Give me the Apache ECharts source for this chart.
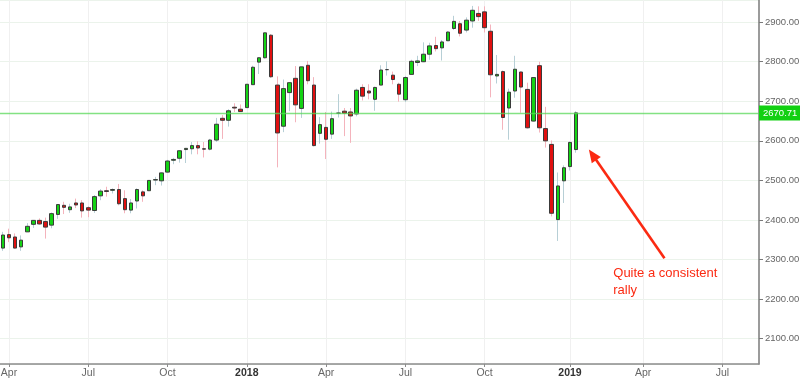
<!DOCTYPE html>
<html><head><meta charset="utf-8">
<script src="https://cdn.jsdelivr.net/npm/echarts@6/dist/echarts.min.js"></script>
<style>html,body{margin:0;padding:0;background:#fff}#c{width:800px;height:380px}</style>
</head><body><div id="c"></div>
<script>
// Weekly categories (Monday of each week)
const padBefore = ['2017-03-20'];
const weeks = [
'2017-03-27','2017-04-03','2017-04-10','2017-04-17','2017-04-24','2017-05-01','2017-05-08','2017-05-15','2017-05-22','2017-05-29',
'2017-06-05','2017-06-12','2017-06-19','2017-06-26','2017-07-03','2017-07-10','2017-07-17','2017-07-24','2017-07-31','2017-08-07',
'2017-08-14','2017-08-21','2017-08-28','2017-09-04','2017-09-11','2017-09-18','2017-09-25','2017-10-02','2017-10-09','2017-10-16',
'2017-10-23','2017-10-30','2017-11-06','2017-11-13','2017-11-20','2017-11-27','2017-12-04','2017-12-11','2017-12-18','2017-12-25',
'2018-01-01','2018-01-08','2018-01-15','2018-01-22','2018-01-29','2018-02-05','2018-02-12','2018-02-19','2018-02-26','2018-03-05',
'2018-03-12','2018-03-19','2018-03-26','2018-04-02','2018-04-09','2018-04-16','2018-04-23','2018-04-30','2018-05-07','2018-05-14',
'2018-05-21','2018-05-28','2018-06-04','2018-06-11','2018-06-18','2018-06-25','2018-07-02','2018-07-09','2018-07-16','2018-07-23',
'2018-07-30','2018-08-06','2018-08-13','2018-08-20','2018-08-27','2018-09-03','2018-09-10','2018-09-17','2018-09-24','2018-10-01',
'2018-10-08','2018-10-15','2018-10-22','2018-10-29','2018-11-05','2018-11-12','2018-11-19','2018-11-26','2018-12-03','2018-12-10',
'2018-12-17','2018-12-24','2018-12-31','2019-01-07','2019-01-14'];
const padAfter = [
'2019-01-21','2019-01-28','2019-02-04','2019-02-11','2019-02-18','2019-02-25','2019-03-04','2019-03-11','2019-03-18','2019-03-25',
'2019-04-01','2019-04-08','2019-04-15','2019-04-22','2019-04-29','2019-05-06','2019-05-13','2019-05-20','2019-05-27','2019-06-03',
'2019-06-10','2019-06-17','2019-06-24','2019-07-01','2019-07-08','2019-07-15','2019-07-22','2019-07-29','2019-08-05','2019-08-12'];

const opens = [
2329,2363,2357,2332,2370,2389,2399,2396,2387,2414,
2437,2426,2443,2443,2431,2424,2461,2474,2475,2477,
2454,2425,2448,2471,2474,2501,2499,2521,2551,2556,
2578,2580,2588,2580,2579,2602,2657,2652,2685,2680,
2684,2742,2799,2810,2867,2741,2637,2722,2758,2682,
2791,2741,2619,2634,2617,2670,2675,2673,2668,2735,
2726,2705,2741,2780,2766,2743,2704,2768,2798,2800,
2819,2841,2835,2853,2884,2896,2880,2903,2922,2926,
2877,2764,2775,2683,2726,2774,2730,2650,2790,2631,
2591,2401,2499,2535,2578];
const highs = [
2370,2378,2366,2361,2392,2400,2404,2406,2419,2440,
2446,2441,2454,2450,2435,2463,2478,2484,2480,2491,
2475,2453,2480,2475,2501,2509,2520,2552,2557,2576,
2582,2597,2599,2597,2605,2658,2665,2680,2695,2692,
2743,2790,2811,2873,2870,2763,2755,2748,2789,2787,
2802,2761,2660,2673,2674,2718,2683,2683,2732,2743,
2743,2737,2791,2801,2775,2747,2764,2805,2815,2849,
2848,2863,2855,2877,2916,2903,2912,2941,2940,2940,
2894,2817,2778,2732,2815,2775,2747,2760,2800,2686,
2601,2520,2538,2598,2675];
const lows = [
2322,2344,2328,2322,2370,2380,2388,2353,2379,2403,
2415,2418,2430,2406,2407,2418,2450,2459,2467,2437,
2417,2417,2429,2446,2474,2488,2487,2520,2541,2545,
2544,2566,2566,2558,2576,2597,2605,2636,2673,2673,
2683,2742,2769,2808,2759,2533,2622,2675,2647,2658,
2743,2586,2593,2554,2605,2659,2612,2595,2662,2702,
2705,2676,2741,2765,2743,2699,2698,2768,2789,2799,
2805,2826,2803,2853,2880,2864,2874,2886,2903,2874,
2710,2745,2628,2603,2709,2671,2631,2649,2621,2583,
2409,2347,2443,2525,2570];
const closes = [
2362,2355,2329,2349,2384,2399,2390,2382,2416,2439,
2432,2433,2438,2423,2425,2459,2473,2472,2477,2441,
2426,2443,2477,2461,2500,2502,2519,2549,2553,2575,
2581,2588,2582,2579,2602,2642,2652,2676,2683,2674,
2743,2786,2810,2873,2762,2620,2732,2747,2691,2787,
2752,2588,2641,2604,2656,2670,2670,2663,2728,2713,
2721,2735,2779,2780,2755,2718,2760,2801,2802,2819,
2840,2833,2850,2875,2902,2872,2905,2930,2914,2886,
2767,2768,2659,2723,2781,2736,2633,2760,2633,2600,
2417,2486,2532,2596,2670.71];

const lastPrice = 2670.71;
const annotationLines = ['Quite a consistent', 'rally'];
const monthNames = ['Jan','Feb','Mar','Apr','May','Jun','Jul','Aug','Sep','Oct','Nov','Dec'];

const categories = padBefore.concat(weeks, padAfter);
const empty = ['-','-','-','-'];
const wickData = padBefore.map(() => empty).concat(weeks.map((_, i) => [opens[i], closes[i], lows[i], highs[i]]));
const bodyData = padBefore.map(() => empty).concat(weeks.map((_, i) => [opens[i], closes[i], Math.min(opens[i], closes[i]), Math.max(opens[i], closes[i])]));

function isQuarterStart(d) {
  const m = +d.slice(5, 7), day = +d.slice(8, 10);
  return (m === 1 || m === 4 || m === 7 || m === 10) && day <= 7;
}
const qInterval = (i, v) => isQuarterStart(v);
const font = '"Liberation Sans", Arial, sans-serif';

const chart = echarts.init(document.getElementById('c'));
chart.setOption({
  animation: false,
  backgroundColor: '#ffffff',
  textStyle: { fontFamily: font },
  grid: { left: -3.2, right: 41, top: 0, bottom: 16, containLabel: false, outerBoundsMode: 'none' },
  xAxis: {
    type: 'category', data: categories, boundaryGap: false,
    axisLine: { lineStyle: { color: '#8c8c8c', width: 1.5 } },
    axisTick: { interval: qInterval, length: 3, lineStyle: { color: '#8c8c8c' } },
    axisLabel: {
      interval: qInterval, color: '#666', fontSize: 10.5, margin: 4,
      formatter: v => { const m = +v.slice(5, 7); return m === 1 ? '{y|' + v.slice(0, 4) + '}' : monthNames[m - 1]; },
      rich: { y: { fontWeight: 'bold', color: '#333', fontSize: 10.5 } }
    },
    splitLine: { show: true, interval: qInterval, lineStyle: { color: '#f0f0f0' } }
  },
  yAxis: {
    type: 'value', position: 'right', min: 2036, max: 2956, splitNumber: 9, minInterval: 100, maxInterval: 100,
    axisLine: { show: true, lineStyle: { color: '#7a7a7a', width: 1.5 } },
    axisTick: { show: true, length: 4, lineStyle: { color: '#7a7a7a' } },
    axisLabel: { formatter: v => v.toFixed(2), color: '#666', fontSize: 9.5, margin: 6, showMinLabel: false, showMaxLabel: false },
    splitLine: { lineStyle: { color: '#ebf3eb' } }
  },
  series: [
    {
      type: 'candlestick', name: 'wick', data: wickData, barWidth: 1, z: 2, silent: true,
      itemStyle: { color: '#b7cfd6', color0: '#f4b3bc', borderColor: '#b7cfd6', borderColor0: '#f4b3bc', borderColorDoji: '#b7cfd6', borderWidth: 1 }
    },
    {
      type: 'candlestick', name: 'body', data: bodyData, barWidth: 4, z: 3, silent: true,
      itemStyle: { color: '#14d314', color0: '#e01010', borderColor: '#3a3a3a', borderColor0: '#3a3a3a', borderColorDoji: '#3a3a3a', borderWidth: 1 }
    },
    {
      type: 'line', name: 'last', data: [], z: 1, silent: true, color: '#5ad85a',
      markLine: {
        symbol: 'none', silent: true, animation: false,
        data: [{ yAxis: lastPrice }],
        lineStyle: { color: '#5ad85a', type: 'solid', width: 1.3, opacity: 0.75 },
        emphasis: { disabled: true },
        label: { position: 'end', formatter: lastPrice.toFixed(2), backgroundColor: '#12d012', color: '#ffffff', fontSize: 9.5, padding: [3, 3, 2, 4], distance: 0, opacity: 1 }
      }
    }
  ]
});

// annotation anchored in data coordinates
function px(idx, val) {
  const i0 = Math.floor(idx), f = idx - i0;
  const a = chart.convertToPixel({ gridIndex: 0 }, [i0, val]);
  const b = chart.convertToPixel({ gridIndex: 0 }, [i0 + 1, val]);
  return [a[0] + (b[0] - a[0]) * f, a[1]];
}
const tip = px(97.1, 2578), tail = px(109.5, 2303), textPos = px(101.1, 2287);
const dx = tip[0] - tail[0], dy = tip[1] - tail[1], len = Math.hypot(dx, dy);
const ux = dx / len, uy = dy / len, headL = 13, headW = 5.5;
const base = [tip[0] - ux * headL, tip[1] - uy * headL];
const red = '#fb2a12';
chart.setOption({
  graphic: [
    { type: 'line', shape: { x1: tail[0], y1: tail[1], x2: base[0] + ux * 2, y2: base[1] + uy * 2 }, style: { stroke: red, lineWidth: 2.6 }, z: 10 },
    { type: 'polygon', shape: { points: [tip, [base[0] - uy * headW, base[1] + ux * headW], [base[0] + uy * headW, base[1] - ux * headW]] }, style: { fill: red }, z: 10 },
    { type: 'text', x: textPos[0], y: textPos[1], style: { text: annotationLines.join('\n'), fill: red, font: '13px ' + font, lineHeight: 17, verticalAlign: 'top', align: 'left' }, z: 10 }
  ]
});
</script>
</body></html>
